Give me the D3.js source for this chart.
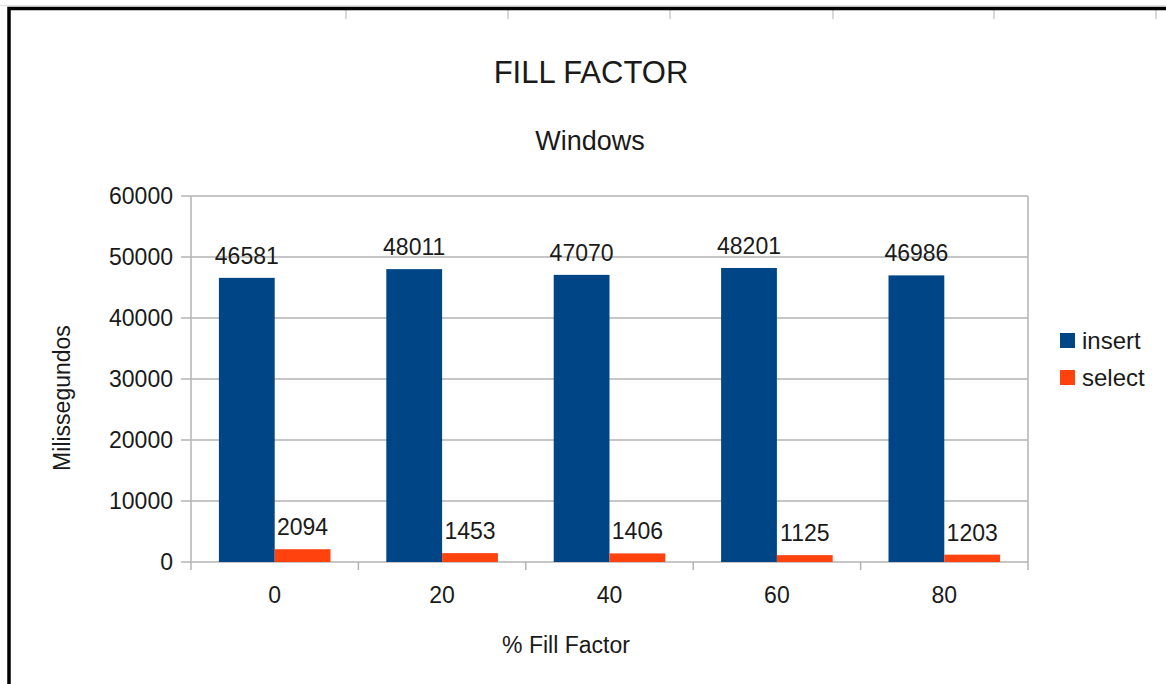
<!DOCTYPE html>
<html>
<head>
<meta charset="utf-8">
<script src="https://cdn.jsdelivr.net/npm/d3@7"></script>
<style>
  body { margin: 0; background: #fff; }
  svg text { font-family: "Liberation Sans", Arial, sans-serif; fill: #1a1a1a; }
</style>
</head>
<body>
<svg id="chart" width="1166" height="684"></svg>
<script>
// chart data
const categories = ['0', '20', '40', '60', '80']
const seriesNames = ['insert', 'select']
const insertValues = [46581, 48011, 47070, 48201, 46986]
const selectValues = [2094, 1453, 1406, 1125, 1203]
const yTicks = [0, 10000, 20000, 30000, 40000, 50000, 60000]
const sheetCols = [346, 508, 670, 833, 994, 1156] // spreadsheet column marks behind the frame

const colors = { insert: '#004586', select: '#ff420e' }
const grid = '#b3b3b3'

const svg = d3.select('#chart')
const plot = { left: 191, right: 1028, top: 196, bottom: 562 }

// spreadsheet frame around the chart
svg.append('line').attr('x1', 0).attr('x2', 1166).attr('y1', 5.5).attr('y2', 5.5)
  .attr('stroke', '#e0e0e0').attr('stroke-width', 1)
svg.selectAll('.colmark').data(sheetCols).enter().append('line')
  .attr('x1', (d) => d).attr('x2', (d) => d).attr('y1', 10).attr('y2', 19)
  .attr('stroke', '#cccccc').attr('stroke-width', 1.5)
svg.append('path').attr('d', 'M9,684 V8.5 H1166')
  .attr('fill', 'none').attr('stroke', '#000').attr('stroke-width', 3.5)

const rows = categories.map((c, i) => ({ cat: c, insert: insertValues[i], select: selectValues[i] }))

const x0 = d3.scaleBand().domain(categories).range([plot.left, plot.right]).padding(0)
const x1 = d3.scaleBand().domain(seriesNames).range([0, x0.bandwidth()]).paddingInner(0).paddingOuter(0.5)
const y = d3.scaleLinear().domain([0, 60000]).range([plot.bottom, plot.top])

// grid lines
svg.selectAll('.grid').data(yTicks).enter().append('line')
  .attr('x1', plot.left - 10).attr('x2', plot.right)
  .attr('y1', (d) => y(d)).attr('y2', (d) => y(d))
  .attr('stroke', grid).attr('stroke-width', 1.5)

// plot border (left / right)
svg.append('line').attr('x1', plot.left).attr('x2', plot.left).attr('y1', plot.top).attr('y2', plot.bottom + 8)
  .attr('stroke', grid).attr('stroke-width', 1.5)
svg.append('line').attr('x1', plot.right).attr('x2', plot.right).attr('y1', plot.top).attr('y2', plot.bottom + 8)
  .attr('stroke', grid).attr('stroke-width', 1.5)

// category separators below the axis
const seps = categories.slice(1).map((c) => x0(c))
svg.selectAll('.sep').data(seps).enter().append('line')
  .attr('x1', (d) => d).attr('x2', (d) => d).attr('y1', plot.bottom).attr('y2', plot.bottom + 8)
  .attr('stroke', grid).attr('stroke-width', 1.5)

// y tick labels
svg.selectAll('.ylab').data(yTicks).enter().append('text')
  .attr('x', 173).attr('y', (d) => y(d) + 8)
  .attr('text-anchor', 'end').attr('font-size', 23)
  .text((d) => d)

// x tick labels
svg.selectAll('.xlab').data(categories).enter().append('text')
  .attr('x', (d) => x0(d) + x0.bandwidth() / 2).attr('y', 603)
  .attr('text-anchor', 'middle').attr('font-size', 23)
  .text((d) => d)

// bars
const groups = svg.selectAll('.grp').data(rows).enter().append('g')
  .attr('transform', (d) => `translate(${x0(d.cat)},0)`)

groups.selectAll('rect').data((d) => seriesNames.map((s) => ({ s: s, v: d[s] }))).enter().append('rect')
  .attr('x', (d) => x1(d.s)).attr('width', x1.bandwidth())
  .attr('y', (d) => y(d.v)).attr('height', (d) => y(0) - y(d.v))
  .attr('fill', (d) => colors[d.s])

groups.selectAll('.val').data((d) => seriesNames.map((s) => ({ s: s, v: d[s] }))).enter().append('text')
  .attr('x', (d) => x1(d.s) + x1.bandwidth() / 2).attr('y', (d) => y(d.v) - 14)
  .attr('text-anchor', 'middle').attr('font-size', 23)
  .text((d) => d.v)

// titles
svg.append('text').attr('x', 591).attr('y', 83).attr('text-anchor', 'middle')
  .attr('font-size', 31).text('FILL FACTOR')
svg.append('text').attr('x', 590).attr('y', 150).attr('text-anchor', 'middle')
  .attr('font-size', 27).text('Windows')
svg.append('text').attr('x', 566).attr('y', 653).attr('text-anchor', 'middle')
  .attr('font-size', 23).text('% Fill Factor')
svg.append('text').attr('transform', 'translate(70,398) rotate(-90)').attr('text-anchor', 'middle')
  .attr('font-size', 23).text('Milissegundos')

// legend
const legend = svg.selectAll('.leg').data(seriesNames).enter().append('g')
  .attr('transform', (d, i) => `translate(1060,${333 + i * 37})`)
legend.append('rect').attr('width', 15).attr('height', 15).attr('fill', (d) => colors[d])
legend.append('text').attr('x', 22).attr('y', 16).attr('font-size', 24).text((d) => d)
</script>
</body>
</html>
